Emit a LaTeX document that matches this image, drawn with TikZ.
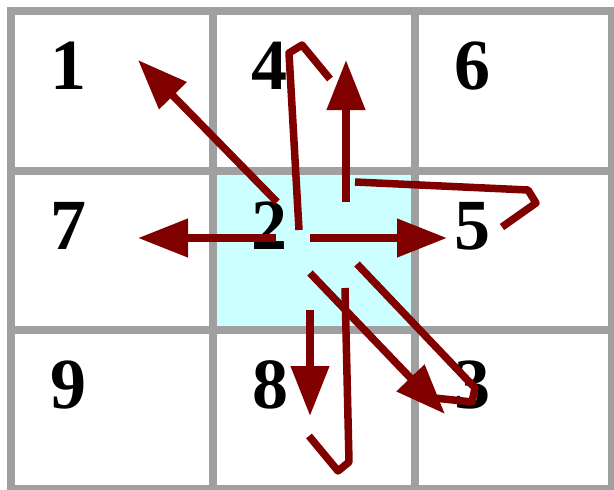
\documentclass[tikz,border=0pt]{standalone}
\usepackage{fontspec}
\setmainfont{Liberation Serif}
\usetikzlibrary{arrows.meta}
\definecolor{gridgray}{HTML}{A0A0A0}
\definecolor{cellcyan}{HTML}{CCFFFF}
\definecolor{darkred}{HTML}{800000}
\begin{document}
\begin{tikzpicture}[x=1pt,y=-1pt,
  gridline/.style={draw=gridgray,line width=8pt},
  cell/.style={minimum width=202pt,minimum height=159pt,inner sep=0pt,outer sep=0pt},
  num/.style={font=\fontsize{72}{72}\selectfont\bfseries,inner sep=0pt},
  move/.style={draw=darkred,line width=7.5pt,-{Triangle[length=50pt,width=37pt]}},
  squig/.style={draw=darkred,line width=7.5pt,line join=round}]
\useasboundingbox (0,0) rectangle (614,490);
% cells
\node[cell] (c1) at (112,91) {};
\node[cell] (c4) at (314,91) {};
\node[cell] (c6) at (513,91) {};
\node[cell] (c7) at (112,250.5) {};
\node[cell,fill=cellcyan] (c2) at (314,250.5) {};
\node[cell] (c5) at (513,250.5) {};
\node[cell] (c9) at (112,409.5) {};
\node[cell] (c8) at (314,409.5) {};
\node[cell] (c3) at (513,409.5) {};
% grid
\foreach \x in {11,213,415,612} \draw[gridline] (\x,7) -- (\x,494);
\foreach \y in {11,171,330,489} \draw[gridline] (7,\y) -- (618,\y);
% labels
\node[num] (n1) at (68,66) {1};
\node[num] (n4) at (269,66) {4};
\node[num] (n6) at (472,66) {6};
\node[num] (n7) at (68,226) {7};
\node[num] (n2) at (269,226) {2};
\node[num] (n5) at (472,226) {5};
\node[num] (n9) at (68,385) {9};
\node[num] (n8) at (270,385) {8};
\node[num] (n3) at (472,385) {3};
% arrow endpoints
\coordinate (s1) at (277,202); \coordinate (t1) at (138,60);
\coordinate (s7) at (276,238); \coordinate (t7) at (138,238);
\coordinate (s5) at (310,238); \coordinate (t5) at (447,238);
\coordinate (s4) at (346,202); \coordinate (t4) at (346,60);
\coordinate (s8) at (310,310); \coordinate (t8) at (310,416);
\coordinate (s3) at (310,273); \coordinate (t3) at (445,414);
% arrows
\draw[move] (s1) -- (t1);
\draw[move] (s7) -- (t7);
\draw[move] (s5) -- (t5);
\draw[move] (s4) -- (t4);
\draw[move] (s8) -- (t8);
\draw[move] (s3) -- (t3);
% squiggles
\coordinate (a0) at (299,230); \coordinate (a1) at (289,53); \coordinate (a2) at (302,45); \coordinate (a3) at (330,79);
\draw[squig] (a0) -- (a1) -- (a2) -- (a3);
\coordinate (b0) at (355,182); \coordinate (b1) at (528,190); \coordinate (b2) at (536,203); \coordinate (b3) at (502,227);
\draw[squig] (b0) -- (b1) -- (b2) -- (b3);
\coordinate (d0) at (357,264); \coordinate (d1) at (475,388); \coordinate (d2) at (472,402); \coordinate (d3) at (425,397);
\draw[squig] (d0) -- (d1) -- (d2) -- (d3);
\coordinate (e0) at (345,288); \coordinate (e1) at (349,462); \coordinate (e2) at (338,471); \coordinate (e3) at (309,436);
\draw[squig] (e0) -- (e1) -- (e2) -- (e3);
\end{tikzpicture}
\end{document}
